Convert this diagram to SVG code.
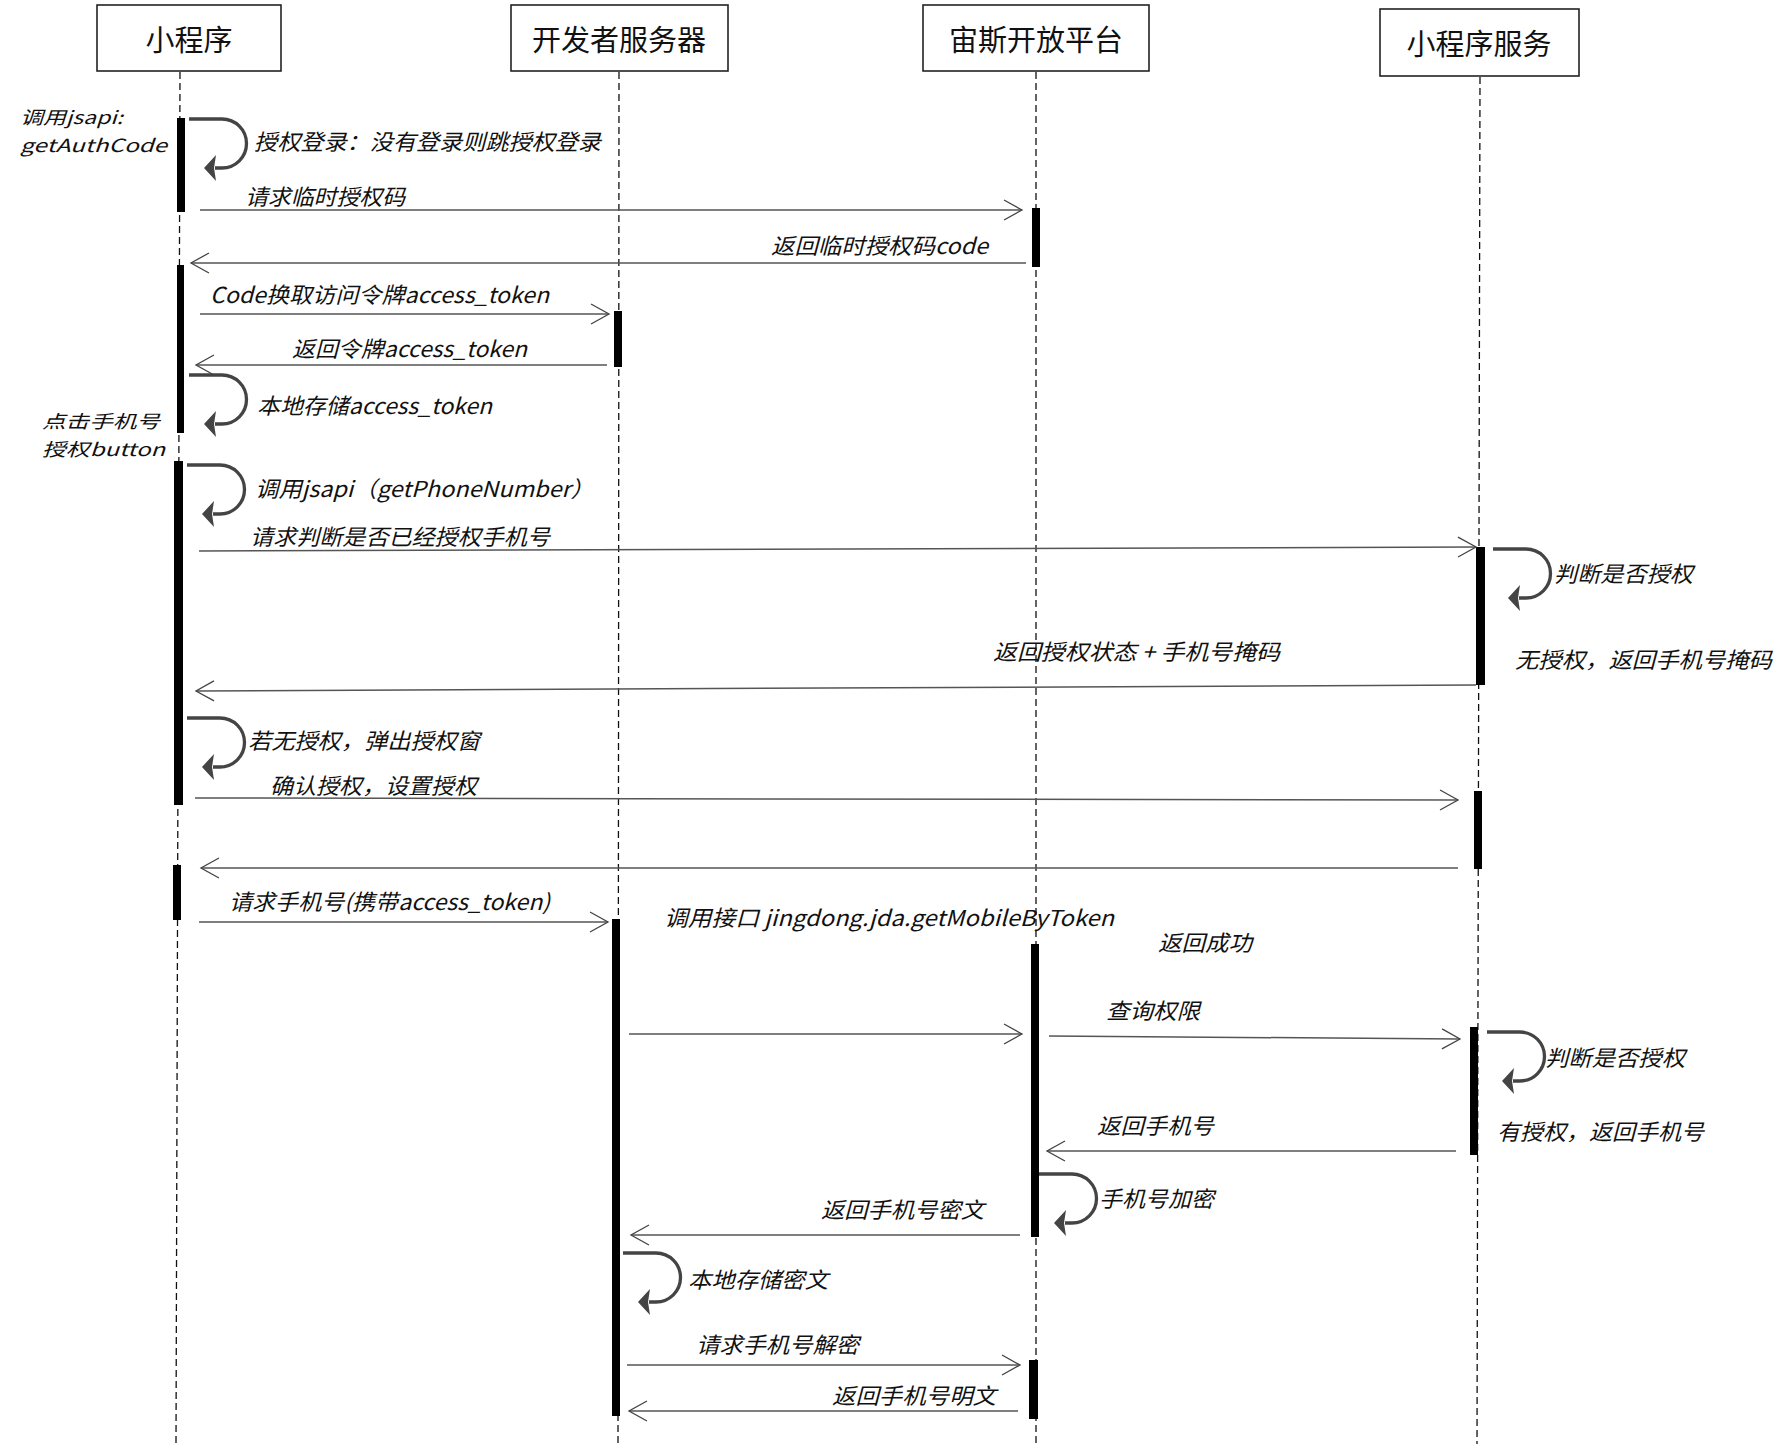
<svg xmlns="http://www.w3.org/2000/svg" xmlns:xlink="http://www.w3.org/1999/xlink" width="1784" height="1444" viewBox="0 0 1784 1444">
<style>
.box{fill:#fff;stroke:#222;stroke-width:1.6}
.title{font-family:"Noto Sans CJK SC","Noto Sans",sans-serif;font-size:29px;fill:#111}
.life{stroke:#111;stroke-width:1.3;stroke-dasharray:7 4;fill:none}
.bar{fill:#000}
.msg{stroke:#555;stroke-width:1.5;fill:none;marker-end:url(#open)}
.loop{stroke:#444;stroke-width:3.3;fill:none}
.loophead{fill:#444}
.lbl{font-family:"Noto Sans CJK SC","Noto Sans",sans-serif;font-size:22px;font-style:italic;fill:#111}
.sm{font-size:18px}
</style>
<defs>
<marker id="open" markerUnits="userSpaceOnUse" markerWidth="24" markerHeight="24" viewBox="-20 -12 22 24" refX="0" refY="0" orient="auto">
<path d="M-18,-10 L0,0 L-18,10" fill="none" stroke="#444" stroke-width="1.3"/>
</marker>
<g id="selfloop">
<path class="loop" d="M0,0 H33 A24.5,24.5 0 0 1 33,49 H26"/>
<polygon class="loophead" points="15,49 27,36 25,49 27,62"/>
</g>
</defs>
<rect width="1784" height="1444" fill="#fff"/>

<g id="node-miniapp">
<rect class="box" x="97" y="5" width="184" height="66"/>
<text class="title" x="189" y="51" text-anchor="middle">小程序</text>
</g>
<g id="node-devserver">
<rect class="box" x="511" y="5" width="217" height="66"/>
<text class="title" x="619" y="51" text-anchor="middle">开发者服务器</text>
</g>
<g id="node-zeus">
<rect class="box" x="923" y="5" width="226" height="66"/>
<text class="title" x="1036" y="51" text-anchor="middle">宙斯开放平台</text>
</g>
<g id="node-miniservice">
<rect class="box" x="1380" y="9" width="199" height="67"/>
<text class="title" x="1479" y="55" text-anchor="middle">小程序服务</text>
</g>

<g id="lifelines">
<line class="life" x1="180" y1="72" x2="176" y2="1444"/>
<line class="life" x1="619" y1="72" x2="618" y2="1444"/>
<line class="life" x1="1036" y1="72" x2="1036" y2="1444"/>
<line class="life" x1="1480" y1="77" x2="1477" y2="1444"/>
</g>

<g id="activations">
<rect class="bar" x="177" y="118" width="8" height="94"/>
<rect class="bar" x="1032" y="208" width="8" height="59"/>
<rect class="bar" x="177" y="265" width="7" height="168"/>
<rect class="bar" x="614" y="311" width="8" height="56"/>
<rect class="bar" x="174" y="461" width="9" height="344"/>
<rect class="bar" x="1476" y="547" width="9" height="138"/>
<rect class="bar" x="1474" y="791" width="8" height="78"/>
<rect class="bar" x="173" y="865" width="8" height="55"/>
<rect class="bar" x="612" y="919" width="8" height="497"/>
<rect class="bar" x="1031" y="944" width="8" height="293"/>
<rect class="bar" x="1470" y="1027" width="8" height="128"/>
<rect class="bar" x="1029" y="1360" width="9" height="59"/>
</g>

<g id="connectors">
<line class="msg" x1="200" y1="210" x2="1022" y2="210"/>
<line class="msg" x1="1026" y1="263" x2="191" y2="263"/>
<line class="msg" x1="200" y1="314" x2="609" y2="314"/>
<line class="msg" x1="607" y1="365" x2="196" y2="365"/>
<line class="msg" x1="199" y1="551" x2="1476" y2="547"/>
<line class="msg" x1="1476" y1="685" x2="196" y2="691"/>
<line class="msg" x1="195" y1="798" x2="1458" y2="800"/>
<line class="msg" x1="1458" y1="868" x2="201" y2="868"/>
<line class="msg" x1="199" y1="922" x2="608" y2="922"/>
<line class="msg" x1="629" y1="1034" x2="1022" y2="1034"/>
<line class="msg" x1="1049" y1="1036" x2="1460" y2="1039"/>
<line class="msg" x1="1456" y1="1151" x2="1047" y2="1151"/>
<line class="msg" x1="1020" y1="1235" x2="631" y2="1235"/>
<line class="msg" x1="627" y1="1365" x2="1020" y2="1365"/>
<line class="msg" x1="1018" y1="1411" x2="629" y2="1411"/>
<use xlink:href="#selfloop" transform="translate(189,119)"/>
<use xlink:href="#selfloop" transform="translate(189,375)"/>
<use xlink:href="#selfloop" transform="translate(187,465)"/>
<use xlink:href="#selfloop" transform="translate(1493,549)"/>
<use xlink:href="#selfloop" transform="translate(187,718)"/>
<use xlink:href="#selfloop" transform="translate(1487,1032)"/>
<use xlink:href="#selfloop" transform="translate(1039,1174)"/>
<use xlink:href="#selfloop" transform="translate(623,1253)"/>
</g>

<g id="labels">
<text class="lbl sm" x="20" y="124" textLength="103" lengthAdjust="spacingAndGlyphs">调用jsapi:</text>
<text class="lbl sm" x="20" y="152" textLength="147" lengthAdjust="spacingAndGlyphs">getAuthCode</text>
<text class="lbl" x="254" y="150" textLength="347" lengthAdjust="spacingAndGlyphs">授权登录：没有登录则跳授权登录</text>
<text class="lbl" x="245" y="205" textLength="160" lengthAdjust="spacingAndGlyphs">请求临时授权码</text>
<text class="lbl" x="771" y="254" textLength="217" lengthAdjust="spacingAndGlyphs">返回临时授权码code</text>
<text class="lbl" x="210" y="303" textLength="339" lengthAdjust="spacingAndGlyphs">Code换取访问令牌access_token</text>
<text class="lbl" x="292" y="357" textLength="235" lengthAdjust="spacingAndGlyphs">返回令牌access_token</text>
<text class="lbl" x="257" y="414" textLength="235" lengthAdjust="spacingAndGlyphs">本地存储access_token</text>
<text class="lbl sm" x="42" y="428" textLength="118" lengthAdjust="spacingAndGlyphs">点击手机号</text>
<text class="lbl sm" x="42" y="456" textLength="123" lengthAdjust="spacingAndGlyphs">授权button</text>
<text class="lbl" x="255" y="497" textLength="339" lengthAdjust="spacingAndGlyphs">调用jsapi（getPhoneNumber）</text>
<text class="lbl" x="250" y="545" textLength="300" lengthAdjust="spacingAndGlyphs">请求判断是否已经授权手机号</text>
<text class="lbl" x="1554" y="582" textLength="139" lengthAdjust="spacingAndGlyphs">判断是否授权</text>
<text class="lbl" x="993" y="660" textLength="287" lengthAdjust="spacingAndGlyphs">返回授权状态 + 手机号掩码</text>
<text class="lbl" x="1515" y="668" textLength="257" lengthAdjust="spacingAndGlyphs">无授权，返回手机号掩码</text>
<text class="lbl" x="248" y="749" textLength="232" lengthAdjust="spacingAndGlyphs">若无授权，弹出授权窗</text>
<text class="lbl" x="270" y="794" textLength="207" lengthAdjust="spacingAndGlyphs">确认授权，设置授权</text>
<text class="lbl" x="229" y="910" textLength="321" lengthAdjust="spacingAndGlyphs">请求手机号(携带access_token)</text>
<text class="lbl" x="664" y="926" textLength="450" lengthAdjust="spacingAndGlyphs">调用接口 jingdong.jda.getMobileByToken</text>
<text class="lbl" x="1158" y="951" textLength="94" lengthAdjust="spacingAndGlyphs">返回成功</text>
<text class="lbl" x="1106" y="1019" textLength="94" lengthAdjust="spacingAndGlyphs">查询权限</text>
<text class="lbl" x="1545" y="1066" textLength="140" lengthAdjust="spacingAndGlyphs">判断是否授权</text>
<text class="lbl" x="1497" y="1140" textLength="207" lengthAdjust="spacingAndGlyphs">有授权，返回手机号</text>
<text class="lbl" x="1097" y="1134" textLength="117" lengthAdjust="spacingAndGlyphs">返回手机号</text>
<text class="lbl" x="1099" y="1207" textLength="115" lengthAdjust="spacingAndGlyphs">手机号加密</text>
<text class="lbl" x="821" y="1218" textLength="163" lengthAdjust="spacingAndGlyphs">返回手机号密文</text>
<text class="lbl" x="688" y="1288" textLength="140" lengthAdjust="spacingAndGlyphs">本地存储密文</text>
<text class="lbl" x="696" y="1353" textLength="163" lengthAdjust="spacingAndGlyphs">请求手机号解密</text>
<text class="lbl" x="832" y="1404" textLength="164" lengthAdjust="spacingAndGlyphs">返回手机号明文</text>
</g>
</svg>
